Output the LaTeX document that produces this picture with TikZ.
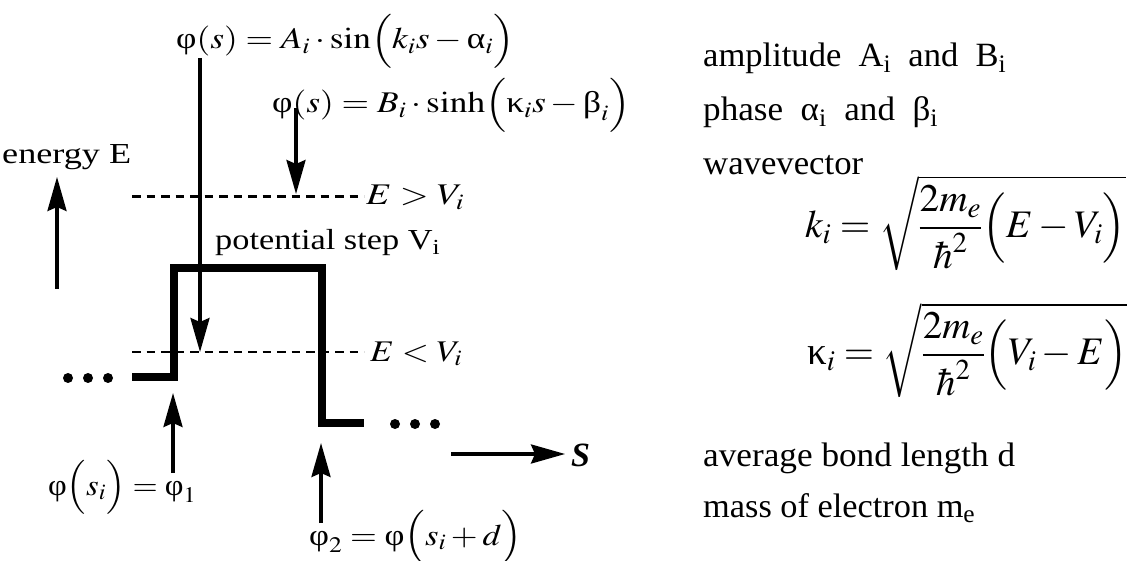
\documentclass[tikz,border=0pt]{standalone}
\usepackage{amsmath}
\usepackage{mathptmx}
\usepackage[no-math]{fontspec}
\setmainfont{Liberation Serif}
\usetikzlibrary{arrows.meta,calc}
\newcommand\gr[1]{\text{#1}}
\newcommand\fw[2]{\resizebox{#1}{\height}{#2}}
\tikzset{
  arr/.style={line width=3.2pt,-{Stealth[length=34pt,width=19pt,inset=4pt]}},
  stepline/.style={line width=8.5pt,line join=miter},
  dashA/.style={line width=3pt,dash pattern=on 8.5pt off 6pt},
  dashB/.style={line width=2.4pt,dash pattern=on 8.5pt off 6pt},
  lbl/.style={inner sep=0pt,anchor=base west,font=\fontsize{29}{32}\selectfont},
  rt/.style={inner sep=0pt,anchor=base west,font=\fontsize{34}{37}\selectfont},
  fm/.style={inner sep=0pt,anchor=base west,font=\fontsize{30}{34}\selectfont},
  kf/.style={inner sep=0pt,anchor=west,font=\fontsize{39}{42}\selectfont},
  dot/.style={fill=black}
}
\begin{document}
\begin{tikzpicture}[x=1pt,y=-1pt]
\useasboundingbox (0,0) rectangle (1141,561);
% formulas top
\node[fm] (f1) at (176,49) {\fw{338pt}{$\gr{φ}(s) = A_i\cdot\sin\Bigl(k_i s-\gr{α}_i\Bigr)$}};
\node[fm] (f2) at (272,113) {\fw{358pt}{$\gr{φ}(s) = B_i\cdot\sinh\Bigl(\gr{κ}_i s-\gr{β}_i\Bigr)$}};
% energy axis
\node[lbl] (en) at (2,164) {\fw{129pt}{energy E}};
\coordinate (eb) at (57,289);
\coordinate (et) at (57,177);
\draw[arr] (eb) -- (et);
% dashed lines
\coordinate (d1l) at (132,197);
\coordinate (d1r) at (364,197);
\coordinate (d2l) at (132,352);
\coordinate (d2r) at (364,352);
\draw[dashA] (d1l) -- (d1r);
\draw[dashB] (d2l) -- (d2r);
\node[fm] (gt) at (366,205) {\fw{98pt}{$E > V_i$}};
\node[fm] (lt) at (370,361) {\fw{92pt}{$E < V_i$}};
% potential step
\coordinate (p0) at (132,377);
\coordinate (p1) at (174,377);
\coordinate (p2) at (174,268);
\coordinate (p3) at (322,268);
\coordinate (p4) at (322,423);
\coordinate (p5) at (364,423);
\draw[stepline] (p0) -- (p1) -- (p2) -- (p3) -- (p4) -- (p5);
\node[lbl] (ps) at (215,250) {\fw{225pt}{potential step V\textsubscript{i}}};
% arrows from formulas
\coordinate (a1) at (200,352);
\coordinate (a2) at (296,194);
\draw[arr] ($(a1 |- f1.base)+(0,9)$) -- (a1);
\draw[arr] ($(a2 |- f2.base)+(0,-5)$) -- (a2);
% dots
\foreach \x in {68,88,108} \fill[dot] (\x,378) circle (5pt);
\foreach \x in {395,415,435} \fill[dot] (\x,424) circle (5pt);
% boundary arrows
\node[fm] (b1) at (48,495) {\fw{148pt}{$\gr{φ}\Bigl(s_i\Bigr) = \gr{φ}_1$}};
\node[fm] (b2) at (309,545) {\fw{213pt}{$\gr{φ}_2 = \gr{φ}\Bigl(s_i + d\Bigr)$}};
\coordinate (t1) at (173,393);
\coordinate (t2) at (321,443);
\draw[arr] ($(t1 |- b1.base)+(0,-22)$) -- (t1);
\draw[arr] ($(t2 |- b2.base)+(0,-22)$) -- (t2);
% s axis
\node[inner sep=0pt,anchor=base west,font=\fontsize{34}{38}\selectfont\bfseries\itshape] (S) at (571,466) {S};
\coordinate (s0) at (451,454);
\coordinate (s1) at (565,454);
\draw[arr] (s0) -- (s1);
% right column
\node[rt] (r1) at (703,67) {\fw{303pt}{amplitude\enspace A\textsubscript{i}\enspace and\enspace B\textsubscript{i}}};
\node[rt] (r2) at (703,121) {\fw{235pt}{phase\enspace α\textsubscript{i}\enspace and\enspace β\textsubscript{i}}};
\node[rt] (r3) at (703,175) {\fw{160pt}{wavevector}};
\node[kf] (k1) at (805,223) {\fw{321pt}{$\displaystyle k_i = \sqrt{\frac{2m_e}{\hbar^2}\Bigl(E-V_i\Bigr)}$}};
\node[kf] (k2) at (807,350) {\fw{320pt}{$\displaystyle \gr{κ}_i = \sqrt{\frac{2m_e}{\hbar^2}\Bigl(V_i-E\Bigr)}$}};
\node[rt] (r4) at (703,466) {\fw{312pt}{average bond length d}};
\node[rt] (r5) at (703,517) {\fw{272pt}{mass of electron m\textsubscript{e}}};
\end{tikzpicture}
\end{document}
